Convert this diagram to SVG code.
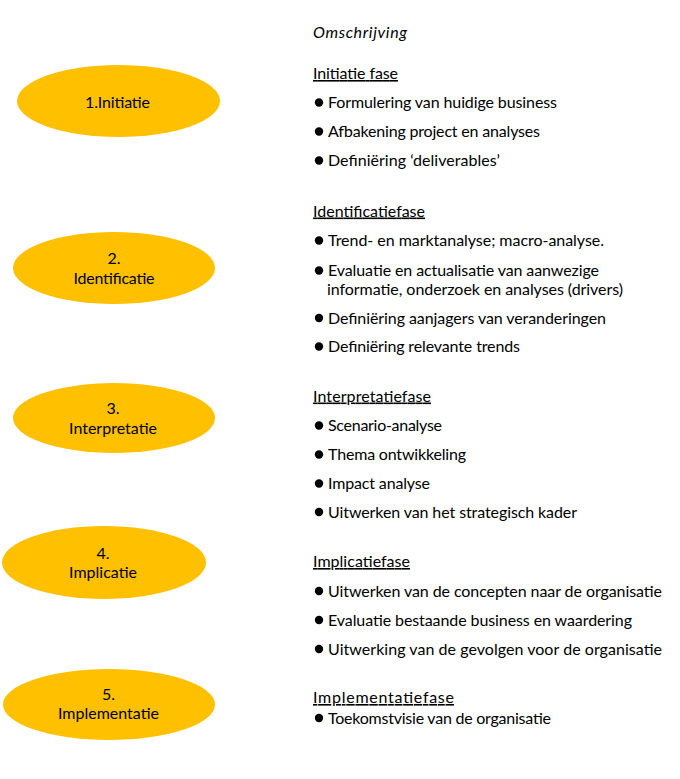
<svg xmlns="http://www.w3.org/2000/svg" width="680" height="779" viewBox="0 0 680 779">
<style>
.bg{fill:#ffffff}
.node ellipse{fill:#FFC000;stroke:none}
text{font-family:Lato,"Open Sans","Liberation Sans",sans-serif;font-size:16px;fill:#000000}
.c{text-anchor:middle}
.h{text-decoration:underline}
.i{font-style:italic}
.b{fill:#000000}
</style>
<rect class="bg" x="0" y="0" width="680" height="779"/>
<g id="connectors"></g>
<g id="node1" class="node">
<ellipse cx="118.5" cy="101" rx="101.5" ry="36"/>
<text class="c" x="117.5" y="108" textLength="65">1.Initiatie</text>
</g>
<g id="node2" class="node">
<ellipse cx="114" cy="268" rx="101" ry="36"/>
<text class="c" x="114" y="264">2.</text>
<text class="c" x="114" y="284" textLength="81">Identificatie</text>
</g>
<g id="node3" class="node">
<ellipse cx="114" cy="418" rx="101" ry="35"/>
<text class="c" x="113" y="414">3.</text>
<text class="c" x="113" y="434" textLength="88">Interpretatie</text>
</g>
<g id="node4" class="node">
<ellipse cx="104" cy="562.5" rx="102" ry="36.5"/>
<text class="c" x="103" y="559">4.</text>
<text class="c" x="103" y="578" textLength="68">Implicatie</text>
</g>
<g id="node5" class="node">
<ellipse cx="109" cy="704.5" rx="106" ry="35.5"/>
<text class="c" x="108.5" y="700">5.</text>
<text class="c" x="108.5" y="719" textLength="101">Implementatie</text>
</g>
<g id="header">
<text class="i" x="313" y="37.5" textLength="94">Omschrijving</text>
</g>
<g id="desc1">
<text class="h" x="313" y="79" textLength="85">Initiatie fase</text>
<circle class="b" cx="319" cy="102.5" r="4.2"/>
<text x="328" y="108" textLength="229">Formulering van huidige business</text>
<circle class="b" cx="319" cy="131.5" r="4.2"/>
<text x="328" y="137" textLength="212">Afbakening project en analyses</text>
<circle class="b" cx="319" cy="160.5" r="4.2"/>
<text x="328" y="166" textLength="172">Definiëring ‘deliverables’</text>
</g>
<g id="desc2">
<text class="h" x="313" y="216.5" textLength="112">Identificatiefase</text>
<circle class="b" cx="319" cy="240.5" r="4.2"/>
<text x="328" y="246" textLength="276">Trend- en marktanalyse; macro-analyse.</text>
<circle class="b" cx="319" cy="270.5" r="4.2"/>
<text x="328" y="276" textLength="271">Evaluatie en actualisatie van aanwezige</text>
<text x="327" y="294.5" textLength="296">informatie, onderzoek en analyses (drivers)</text>
<circle class="b" cx="319" cy="318" r="4.2"/>
<text x="328" y="323.5" textLength="278">Definiëring aanjagers van veranderingen</text>
<circle class="b" cx="319" cy="346.5" r="4.2"/>
<text x="328" y="352" textLength="192">Definiëring relevante trends</text>
</g>
<g id="desc3">
<text class="h" x="313" y="401.5" textLength="118">Interpretatiefase</text>
<circle class="b" cx="319" cy="425.5" r="4.2"/>
<text x="328" y="431" textLength="114">Scenario-analyse</text>
<circle class="b" cx="319" cy="454.5" r="4.2"/>
<text x="328" y="460" textLength="138">Thema ontwikkeling</text>
<circle class="b" cx="319" cy="483.5" r="4.2"/>
<text x="328" y="489" textLength="102">Impact analyse</text>
<circle class="b" cx="319" cy="512" r="4.2"/>
<text x="328" y="517.5" textLength="249">Uitwerken van het strategisch kader</text>
</g>
<g id="desc4">
<text class="h" x="313" y="567" textLength="97">Implicatiefase</text>
<circle class="b" cx="319" cy="591" r="4.2"/>
<text x="328" y="596.5" textLength="334">Uitwerken van de concepten naar de organisatie</text>
<circle class="b" cx="319" cy="620" r="4.2"/>
<text x="328" y="625.5" textLength="304">Evaluatie bestaande business en waardering</text>
<circle class="b" cx="319" cy="649" r="4.2"/>
<text x="328" y="654.5" textLength="334">Uitwerking van de gevolgen voor de organisatie</text>
</g>
<g id="desc5">
<text class="h" x="313" y="703" textLength="141">Implementatiefase</text>
<circle class="b" cx="319" cy="718" r="4.2"/>
<text x="328" y="723.5" textLength="223">Toekomstvisie van de organisatie</text>
</g>
</svg>
